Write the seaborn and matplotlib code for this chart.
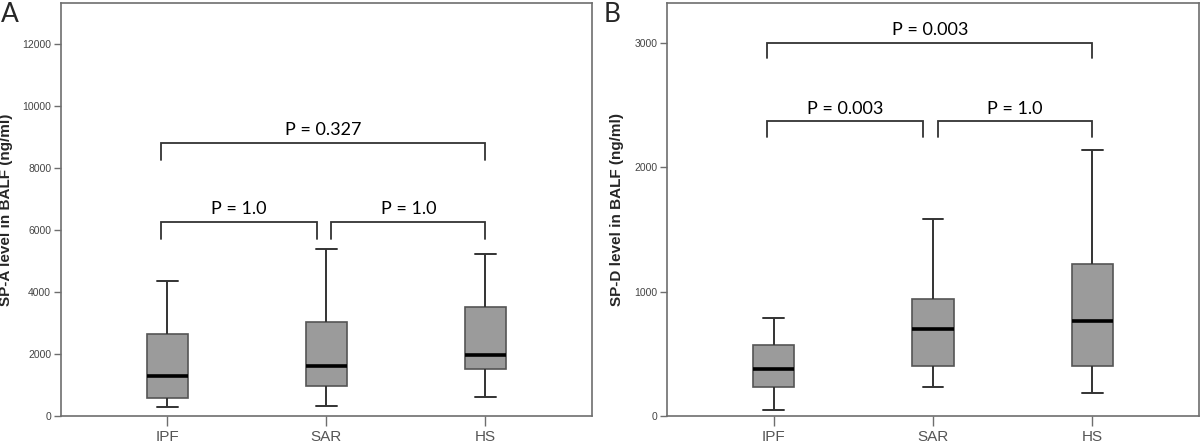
import numpy as np
import pandas as pd
import matplotlib
matplotlib.use("Agg")
import matplotlib.pyplot as plt
import seaborn as sns

# ==========================================
# Data: five-number summaries
# (lower whisker, Q1, median, Q3, upper whisker)
# ==========================================
groups = ["IPF", "SAR", "HS"]

spa_ipf = [280, 590, 1280, 2650, 4350]
spa_sar = [330, 970, 1600, 3020, 5400]
spa_hs = [600, 1520, 1980, 3500, 5240]

spd_ipf = [50, 230, 380, 570, 790]
spd_sar = [230, 400, 700, 940, 1580]
spd_hs = [185, 400, 760, 1220, 2140]

# Significance brackets: (left group, right group, bracket height, label)
spa_pvals = [("IPF", "SAR", 6250, "P = 1.0"),
             ("SAR", "HS", 6250, "P = 1.0"),
             ("IPF", "HS", 8800, "P = 0.327")]
spd_pvals = [("IPF", "SAR", 2370, "P = 0.003"),
             ("SAR", "HS", 2370, "P = 1.0"),
             ("IPF", "HS", 3000, "P = 0.003")]


def long_frame(summaries):
    rows = []
    for g, vals in zip(groups, summaries):
        for v in vals:
            rows.append({"group": g, "value": v})
    return pd.DataFrame(rows)


df_a = long_frame([spa_ipf, spa_sar, spa_hs])
df_b = long_frame([spd_ipf, spd_sar, spd_hs])

sns.set_style("white")
plt.rcParams["font.family"] = ["Liberation Sans", "DejaVu Sans"]

fig = plt.figure(figsize=(12, 4.43), dpi=100)
ax_a = fig.add_axes([0.0508, 0.061, 0.4425, 0.932])
ax_b = fig.add_axes([0.5558, 0.061, 0.4433, 0.932])

spine_col = "#6e6e6e"
line_col = "#333333"


def draw_panel(ax, df, pvals, ymax, yticks, ylabel, dy):
    sns.boxplot(data=df, x="group", y="value", order=groups, ax=ax,
                whis=(0, 100), width=0.26, color="#9b9b9b", saturation=1,
                linewidth=1.2, showfliers=False,
                boxprops=dict(facecolor="#9b9b9b", edgecolor="#555555"),
                whiskerprops=dict(color=line_col, linewidth=1.4),
                capprops=dict(color=line_col, linewidth=1.4),
                medianprops=dict(color="black", linewidth=2.6))
    ax.set_xlim(-0.67, 2.67)
    ax.set_ylim(0, ymax)
    ax.set_yticks(yticks)
    ax.set_yticklabels([str(t) for t in yticks], fontsize=7.5, color="#444444")
    ax.set_xticks(range(len(groups)))
    ax.set_xticklabels(groups, fontsize=11, color="#555555")
    ax.tick_params(axis="y", direction="out", length=5, width=1, color=spine_col, pad=2, left=True)
    ax.tick_params(axis="x", direction="out", length=7, width=1, color=spine_col, pad=3, bottom=True)
    ax.set_xlabel("")
    ax.set_ylabel(ylabel, fontsize=11, fontweight="bold", labelpad=7)
    for s in ax.spines.values():
        s.set_color(spine_col)
        s.set_linewidth(1.2)

    pos = {g: i for i, g in enumerate(groups)}
    for left, right, h, label in pvals:
        x0 = pos[left] - 0.04 if left == "IPF" else pos[left] + 0.03
        x1 = pos[right] - 0.06 if right == "SAR" else pos[right]
        ax.plot([x0, x0, x1, x1], [h - dy, h, h, h - dy],
                color=line_col, linewidth=1.3, solid_joinstyle="miter")
        ax.text((x0 + x1) / 2, h + dy * 0.3, label, ha="center", va="bottom",
                fontsize=13, family=["Lato", "DejaVu Sans"], color="black")


draw_panel(ax_a, df_a, spa_pvals, 13320, [0, 2000, 4000, 6000, 8000, 10000, 12000],
           "SP-A level in BALF (ng/ml)", 540)
draw_panel(ax_b, df_b, spd_pvals, 3320, [0, 1000, 2000, 3000],
           "SP-D level in BALF (ng/ml)", 125)

fig.text(0.001, 0.995, "A", fontsize=19, ha="left", va="top", family=["Lato", "DejaVu Sans"])
fig.text(0.503, 0.995, "B", fontsize=19, ha="left", va="top", family=["Lato", "DejaVu Sans"])

fig.savefig("out.png", dpi=100)
